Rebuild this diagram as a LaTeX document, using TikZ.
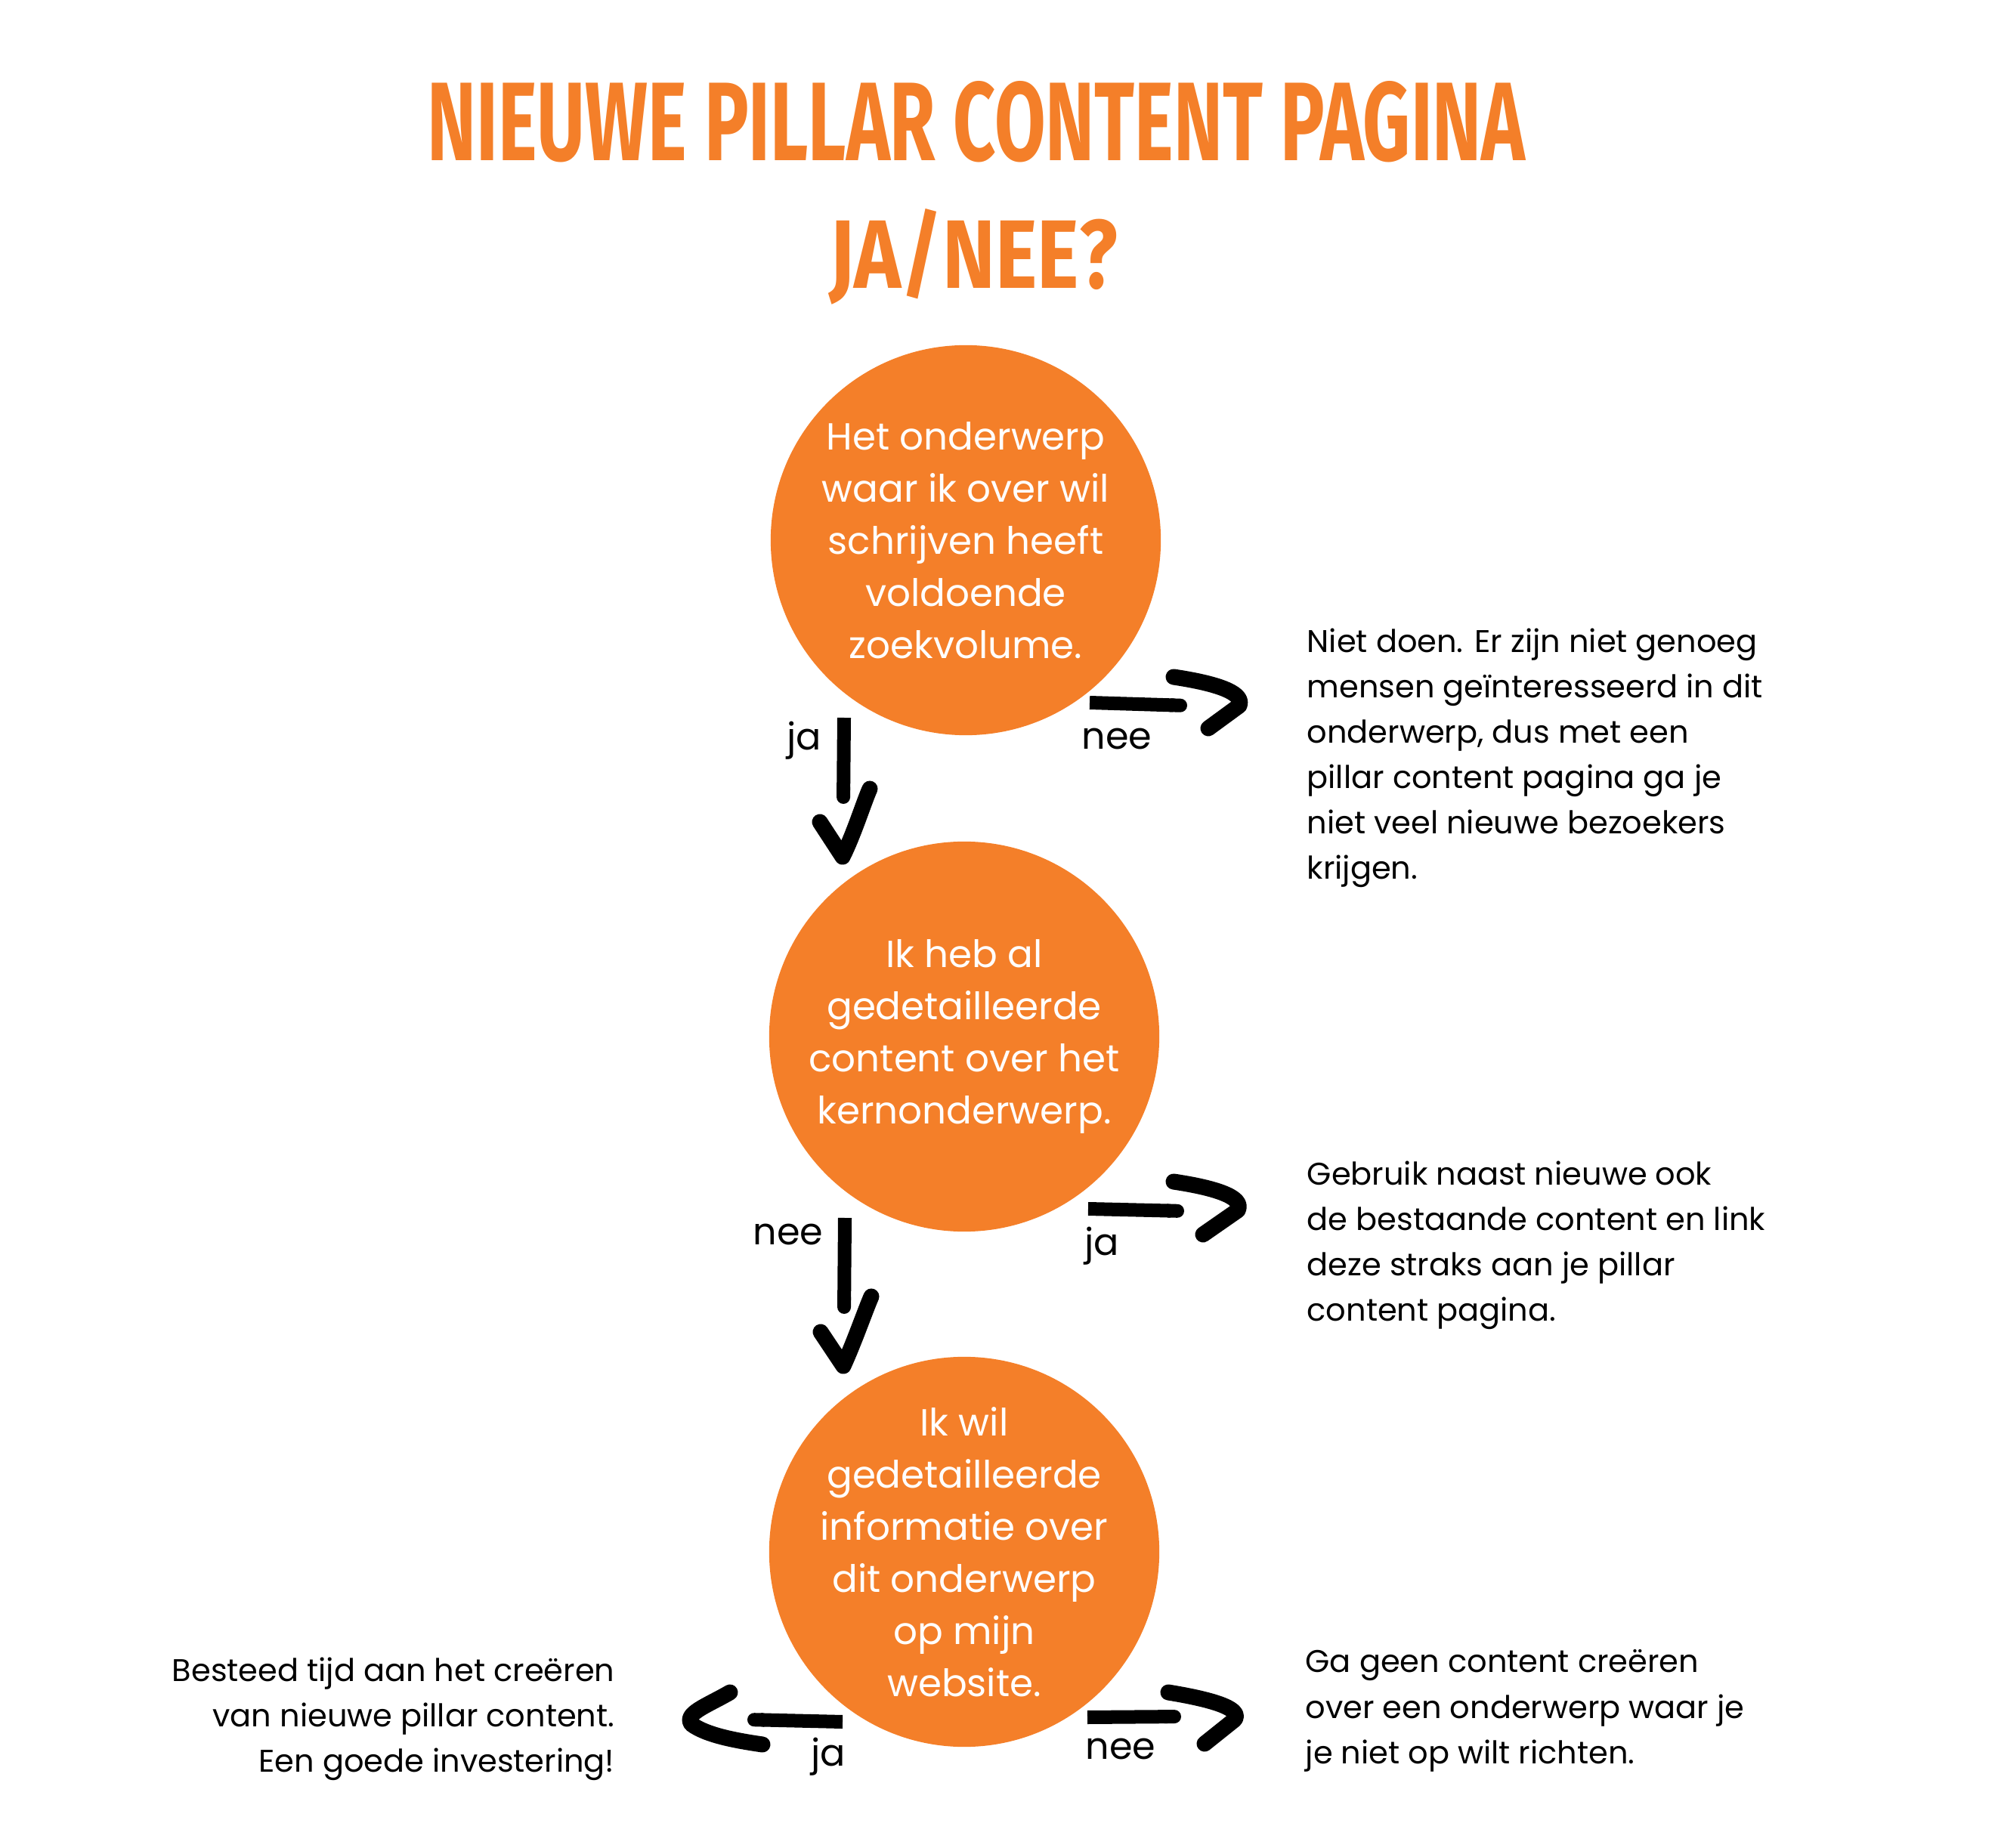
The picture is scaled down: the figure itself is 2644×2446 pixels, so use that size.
\documentclass[tikz,border=0pt]{standalone}
\usepackage{fontspec}
\setmainfont{Poppins}
\newfontfamily\titlefont{Fira Sans}
\usepackage{graphicx}
\usetikzlibrary{arrows.meta}
\definecolor{pillar}{RGB}{244,127,41}

\begin{document}
\begin{tikzpicture}[
    x=0.01cm, y=-0.01cm,
    bubble/.style={circle, fill=pillar, inner sep=-8mm, minimum size=5.16cm, text=white, align=center, font=\fontsize{14.2pt}{19.6pt}\selectfont},
    note/.style={inner sep=0pt, font=\fontsize{11.8pt}{17.1pt}\selectfont},
    answer/.style={inner sep=0pt, anchor=base, font=\fontsize{14pt}{17pt}\selectfont},
    headline/.style={inner sep=0pt, text=pillar, font=\titlefont\bfseries},
    shaft/.style={line width=0.18cm, -{Round Cap}},
    barb/.style={line width=0.21cm, line cap=round, line join=round}
]
    \useasboundingbox (0,0) rectangle (2644,2446);

    % --- TITEL ---
    \node[headline] (head1) at (1292,161) {\resizebox{14.52cm}{1.05cm}{NIEUWE PILLAR CONTENT PAGINA}};
    \node[headline] (head2) at (1288,340) {\resizebox{3.81cm}{1.05cm}{JA/NEE?}};

    % --- VRAGEN (cirkels) ---
    \node[bubble] (q1) at (1278,715) {Het onderwerp\\waar ik over wil\\schrijven heeft\\voldoende\\zoekvolume.};
    \node[bubble] (q2) at (1276,1372) {Ik heb al\\gedetailleerde\\content over het\\kernonderwerp.};
    \node[bubble] (q3) at (1276,2054) {Ik wil\\gedetailleerde\\informatie over\\dit onderwerp\\op mijn\\website.};

    % --- UITKOMSTEN ---
    \node[note, anchor=north west, align=left] (out1) at (1729,831) {Niet doen. Er zijn niet genoeg\\mensen geïnteresseerd in dit\\onderwerp, dus met een\\pillar content pagina ga je\\niet veel nieuwe bezoekers\\krijgen.};
    \node[note, anchor=north west, align=left] (out2) at (1729,1536) {Gebruik naast nieuwe ook\\de bestaande content en link\\deze straks aan je pillar\\content pagina.};
    \node[note, anchor=north west, align=left] (out3) at (1727,2183) {Ga geen content creëren\\over een onderwerp waar je\\je niet op wilt richten.};
    \node[note, anchor=north east, align=right] (out4) at (814,2193) {Besteed tijd aan het creëren\\van nieuwe pillar content.\\Een goede investering!};

    % --- ANTWOORDEN ---
    \node[answer] (ja1) at (1064,993) {ja};
    \node[answer] (nee1) at (1478,992) {nee};
    \node[answer] (nee2) at (1043,1647) {nee};
    \node[answer] (ja2) at (1458,1661) {ja};
    \node[answer] (ja3) at (1096,2337) {ja};
    \node[answer] (nee3) at (1483,2328) {nee};

    % --- PIJLEN (handgetekend) ---
    % vraag 1 -> vraag 2
    \coordinate (d1a) at (1117,950);
    \coordinate (d1b) at (1116,1064);
    \draw[shaft] (d1a) -- (d1b);
    \draw[barb] (1085,1088) -- (1115,1134) .. controls (1130,1104) and (1143,1062) .. (1151,1044);

    % vraag 1 -> niet doen
    \coordinate (r1a) at (1442,930);
    \coordinate (r1b) at (1571,934);
    \draw[shaft] (r1a) -- (r1b);
    \draw[barb] (1553,896) .. controls (1600,903) and (1648,915) .. (1640,934) -- (1599,964);

    % vraag 2 -> vraag 3
    \coordinate (d2a) at (1118,1612);
    \coordinate (d2b) at (1117,1739);
    \draw[shaft] (d2a) -- (d2b);
    \draw[barb] (1086,1763) -- (1116,1808) .. controls (1131,1775) and (1144,1737) .. (1153,1716);

    % vraag 2 -> bestaande content
    \coordinate (r2a) at (1440,1600);
    \coordinate (r2b) at (1567,1603);
    \draw[shaft] (r2a) -- (r2b);
    \draw[barb] (1553,1564) .. controls (1600,1571) and (1648,1583) .. (1638,1602) -- (1592,1634);

    % vraag 3 -> nieuwe pillar content
    \coordinate (l3a) at (1115,2279);
    \coordinate (l3b) at (989,2276);
    \draw[shaft] (l3a) -- (l3b);
    \draw[barb] (966,2240) .. controls (935,2258) and (905,2268) .. (915,2282) .. controls (935,2297) and (975,2304) .. (1009,2309);

    % vraag 3 -> geen content
    \coordinate (r3a) at (1439,2273);
    \coordinate (r3b) at (1563,2272);
    \draw[shaft] (r3a) -- (r3b);
    \draw[barb] (1546,2240) .. controls (1595,2248) and (1645,2260) .. (1634,2276) -- (1594,2308);

\end{tikzpicture}
\end{document}
